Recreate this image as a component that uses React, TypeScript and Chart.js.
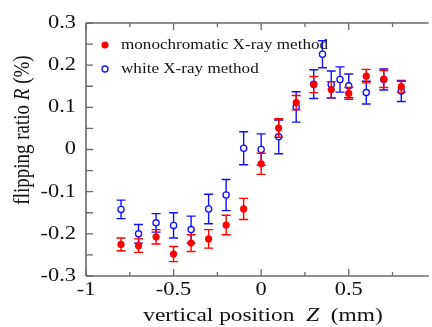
import React, { useEffect, useRef } from 'react';
import { Chart, registerables } from 'chart.js';

Chart.register(...registerables);

// ---- data ----
const monoZ = [-0.8, -0.7, -0.6, -0.5, -0.4, -0.3, -0.2, -0.1, 0, 0.1, 0.2, 0.3, 0.4, 0.5, 0.6, 0.7, 0.8];
const monoR = [-0.225, -0.228, -0.207, -0.248, -0.222, -0.212, -0.179, -0.141, -0.034, 0.051, 0.111, 0.154, 0.142, 0.133, 0.174, 0.167, 0.149];
const monoErr = [0.015, 0.016, 0.017, 0.018, 0.02, 0.022, 0.023, 0.025, 0.025, 0.022, 0.017, 0.019, 0.019, 0.014, 0.016, 0.02, 0.013];

const whiteZ = [-0.8, -0.7, -0.6, -0.5, -0.4, -0.3, -0.2, -0.1, 0, 0.1, 0.2, 0.3, 0.35, 0.4, 0.45, 0.5, 0.6, 0.7, 0.8];
const whiteR = [-0.142, -0.2, -0.174, -0.18, -0.19, -0.141, -0.108, 0.003, 0.0, 0.03, 0.101, 0.155, 0.226, 0.154, 0.166, 0.151, 0.135, 0.166, 0.139];
const whiteErr = [0.022, 0.022, 0.022, 0.03, 0.032, 0.035, 0.037, 0.039, 0.037, 0.04, 0.036, 0.034, 0.032, 0.032, 0.03, 0.028, 0.027, 0.025, 0.025];

const seriesNames = ['monochromatic X-ray method', 'white X-ray method'];

const xMajorTicks = [-1, -0.5, 0, 0.5];
const xMajorLabels = ['-1', '-0.5', '0', '0.5'];
const xMinorTicks = [-0.75, -0.25, 0.25, 0.75];
const yMajorTicks = [-0.3, -0.2, -0.1, 0, 0.1, 0.2, 0.3];
const yMajorLabels = ['-0.3', '-0.2', '-0.1', '0', '0.1', '0.2', '0.3'];
const yMinorTicks = [-0.25, -0.15, -0.05, 0.05, 0.15, 0.25];

const RED = '#ff0000';
const BLUE = '#1010ff';
const AXIS = '#6a6a6a';
const FONT = '"Liberation Serif", "Times New Roman", serif';
const SX = 1.18; // horizontal stretch of text

const errs = [monoErr, whiteErr];
const colors = [RED, BLUE];

function drawSegments(ctx: CanvasRenderingContext2D, x: number, y: number, parts: { t: string; italic?: boolean }[], size: number, align: 'left' | 'center' | 'right') {
  const widths = parts.map((p) => {
    ctx.font = `${p.italic ? 'italic ' : ''}${size}px ${FONT}`;
    return ctx.measureText(p.t).width;
  });
  const total = widths.reduce((a, b) => a + b, 0);
  let cx = align === 'left' ? 0 : align === 'center' ? -total / 2 : -total;
  ctx.textAlign = 'left';
  parts.forEach((p, i) => {
    ctx.font = `${p.italic ? 'italic ' : ''}${size}px ${FONT}`;
    ctx.fillText(p.t, cx, 0);
    cx += widths[i];
  });
}

const decor = {
  id: 'decor',
  beforeDatasetDraw(chart: any, args: any) {
    const ctx = chart.ctx as CanvasRenderingContext2D;
    const xs = chart.scales.x;
    const ys = chart.scales.y;
    const ds = chart.data.datasets[args.index];
    const e = errs[args.index];
    ctx.save();
    ctx.strokeStyle = colors[args.index];
    ctx.lineWidth = 1.4;
    ds.data.forEach((p: any, i: number) => {
      const px = xs.getPixelForValue(p.x);
      const top = ys.getPixelForValue(p.y + e[i]);
      const bot = ys.getPixelForValue(p.y - e[i]);
      ctx.beginPath();
      ctx.moveTo(px, top);
      ctx.lineTo(px, bot);
      ctx.moveTo(px - 4.5, top);
      ctx.lineTo(px + 4.5, top);
      ctx.moveTo(px - 4.5, bot);
      ctx.lineTo(px + 4.5, bot);
      ctx.stroke();
    });
    ctx.restore();
  },
  afterDraw(chart: any) {
    const ctx = chart.ctx as CanvasRenderingContext2D;
    const xs = chart.scales.x;
    const ys = chart.scales.y;
    const a = chart.chartArea;
    ctx.save();
    // axes lines
    ctx.strokeStyle = AXIS;
    ctx.lineWidth = 1.6;
    ctx.beginPath();
    ctx.moveTo(a.left, a.top);
    ctx.lineTo(a.left, a.bottom);
    ctx.moveTo(a.left, a.bottom);
    ctx.lineTo(a.right + 2, a.bottom);
    ctx.moveTo(a.left, a.top);
    ctx.lineTo(a.right + 2, a.top);
    ctx.stroke();
    // ticks
    ctx.lineWidth = 1.3;
    ctx.beginPath();
    xMajorTicks.forEach((v) => {
      const px = xs.getPixelForValue(v);
      ctx.moveTo(px, a.bottom);
      ctx.lineTo(px, a.bottom - 7);
      ctx.moveTo(px, a.top);
      ctx.lineTo(px, a.top + 7);
    });
    xMinorTicks.forEach((v) => {
      const px = xs.getPixelForValue(v);
      ctx.moveTo(px, a.bottom);
      ctx.lineTo(px, a.bottom - 4);
      ctx.moveTo(px, a.top);
      ctx.lineTo(px, a.top + 4);
    });
    yMajorTicks.concat(yMinorTicks).forEach((v) => {
      const py = ys.getPixelForValue(v);
      ctx.moveTo(a.left, py);
      ctx.lineTo(a.left + 7, py);
    });
    ctx.stroke();

    ctx.fillStyle = '#111';
    ctx.textBaseline = 'middle';
    // y tick labels
    yMajorTicks.forEach((v, i) => {
      const py = ys.getPixelForValue(v);
      ctx.save();
      ctx.translate(a.left - 10, py);
      ctx.scale(SX, 1);
      drawSegments(ctx, 0, 0, [{ t: yMajorLabels[i] }], 19, 'right');
      ctx.restore();
    });
    // x tick labels
    xMajorTicks.forEach((v, i) => {
      const px = xs.getPixelForValue(v);
      ctx.save();
      ctx.translate(px, a.bottom + 14);
      ctx.scale(SX, 1);
      drawSegments(ctx, 0, 0, [{ t: xMajorLabels[i] }], 19, 'center');
      ctx.restore();
    });
    // x title
    ctx.save();
    ctx.translate(263, 316);
    ctx.scale(1.23, 1);
    drawSegments(ctx, 0, 0, [{ t: 'vertical position  ' }, { t: 'Z', italic: true }, { t: '  (mm)' }], 19, 'center');
    ctx.restore();
    // y title
    ctx.save();
    ctx.translate(23, 130);
    ctx.rotate(-Math.PI / 2);
    ctx.scale(1, SX);
    drawSegments(ctx, 0, 0, [{ t: 'flipping ratio ' }, { t: 'R', italic: true }, { t: ' (%)' }], 19, 'center');
    ctx.restore();
    // legend
    ctx.fillStyle = RED;
    ctx.beginPath();
    ctx.arc(105, 45, 3.5, 0, Math.PI * 2);
    ctx.fill();
    ctx.strokeStyle = BLUE;
    ctx.fillStyle = '#fff';
    ctx.lineWidth = 1.3;
    ctx.beginPath();
    ctx.arc(105, 69, 3, 0, Math.PI * 2);
    ctx.fill();
    ctx.stroke();
    ctx.fillStyle = '#111';
    [45, 69].forEach((py, i) => {
      ctx.save();
      ctx.translate(121, py);
      ctx.scale(1.14, 1);
      drawSegments(ctx, 0, 0, [{ t: seriesNames[i] }], 15, 'left');
      ctx.restore();
    });
    ctx.restore();
  },
};

export default function App() {
  const ref = useRef<HTMLCanvasElement | null>(null);
  useEffect(() => {
    if (!ref.current) return;
    const chart = new Chart(ref.current, {
      type: 'scatter',
      data: {
        datasets: [
          {
            label: seriesNames[0],
            data: monoZ.map((z, i) => ({ x: z, y: monoR[i] })),
            pointRadius: 3.6,
            pointBackgroundColor: RED,
            pointBorderColor: RED,
            pointBorderWidth: 0,
          },
          {
            label: seriesNames[1],
            data: whiteZ.map((z, i) => ({ x: z, y: whiteR[i] })),
            pointRadius: 3.1,
            pointBackgroundColor: '#ffffff',
            pointBorderColor: BLUE,
            pointBorderWidth: 1.3,
          },
        ],
      },
      options: {
        responsive: false,
        animation: false,
        layout: { padding: { left: 86, top: 23, right: 0, bottom: 51 } },
        plugins: { legend: { display: false }, tooltip: { enabled: false } },
        scales: {
          x: { type: 'linear', min: -1, max: 0.945, display: false },
          y: { type: 'linear', min: -0.3, max: 0.3, display: false },
        },
      },
      plugins: [decor],
    });
    return () => chart.destroy();
  }, []);
  return (
    <div style={{ position: 'absolute', left: 0, top: 0, width: 432, height: 327, background: '#fff' }}>
      <canvas ref={ref} width={432} height={327} />
    </div>
  );
}
